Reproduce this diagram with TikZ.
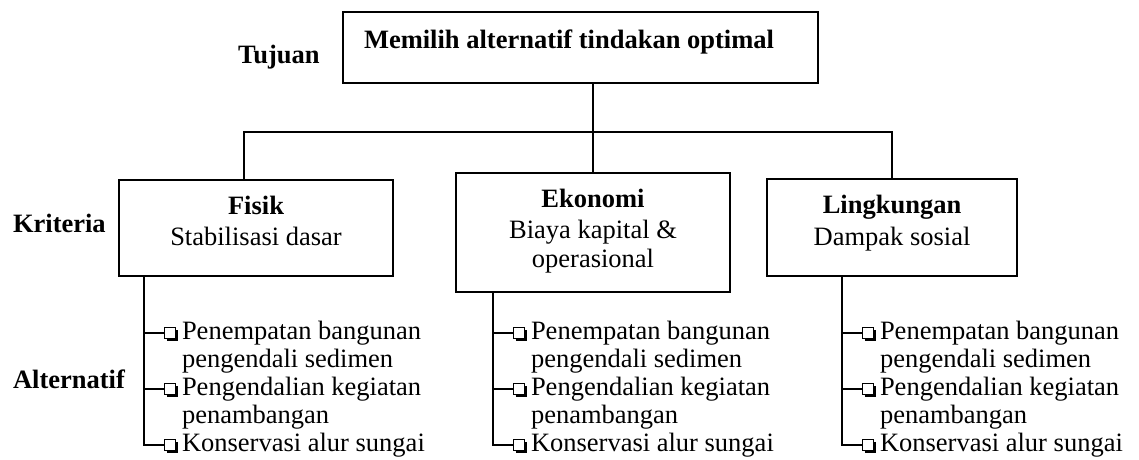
\documentclass[tikz,border=0pt]{standalone}
\usepackage{fontspec}
\setmainfont{Liberation Serif}
\begin{document}
\begin{tikzpicture}[x=1pt,y=-1pt,
  every node/.style={inner sep=0pt, outer sep=0pt},
  box/.style={draw, line width=1.6pt, inner sep=0pt},
  conn/.style={line width=1.5pt},
  txt/.style={font=\fontsize{26.5}{28}\selectfont, anchor=base},
  btxt/.style={font=\fontsize{26.5}{28}\selectfont\bfseries, anchor=base},
  item/.style={font=\fontsize{26.5}{28}\selectfont, anchor=base west},
  cbox/.style={draw, line width=1pt, minimum width=11pt, minimum height=11pt, inner sep=0pt, fill=white}]
\useasboundingbox (0,0) rectangle (1139,459);

% goal
\node[box, minimum width=475pt, minimum height=71pt] (goal) at (580.5,47.5) {};
\node[btxt, anchor=base west] (goalT) at (364,48) {Memilih alternatif tindakan optimal};
\node[btxt, anchor=base west] (tuj) at (238,63) {Tujuan};
\node[btxt, anchor=base west] (kri) at (13,232) {Kriteria};
\node[btxt, anchor=base west] (alt) at (13,388) {Alternatif};

% criteria
\node[box, minimum width=274pt, minimum height=96pt] (fis) at (256,228) {};
\node[btxt] (fisA) at (256,214) {Fisik};
\node[txt] (fisB) at (256,245) {Stabilisasi dasar};

\node[box, minimum width=274pt, minimum height=119pt] (eko) at (593,232.5) {};
\node[btxt] (ekoA) at (593,207) {Ekonomi};
\node[txt] (ekoB) at (593,238) {Biaya kapital \&};
\node[txt] (ekoC) at (593,267) {operasional};

\node[box, minimum width=250pt, minimum height=97pt] (lin) at (892,227.5) {};
\node[btxt] (linA) at (892,213) {Lingkungan};
\node[txt] (linB) at (892,245) {Dampak sosial};

% tree connectors
\coordinate (j) at (593,132);
\coordinate (fstem) at (244,0);
\draw[conn] (goal.south -| eko.north) -- (eko.north);
\draw[conn] (fis.north -| fstem) -- (fstem |- j) -- (j -| lin.north) -- (lin.north);

% alternatives
\foreach \s/\c/\bx in {144/1/fis,493/2/eko,842/3/lin}{
  \coordinate (st\c) at (\s,0);
  \node[cbox] (cb\c1) at (\s+26,333) {};
  \node[cbox] (cb\c2) at (\s+26,389) {};
  \node[cbox] (cb\c3) at (\s+26,445) {};
  \foreach \r in {1,2,3}{
    \draw[line width=2pt] ([shift={(2,1)}]cb\c\r.south west) -- ([shift={(1,1)}]cb\c\r.south east) -- ([shift={(1,2)}]cb\c\r.north east);
  }
  \draw[conn] (\bx.south -| st\c) -- (st\c |- cb\c3.west) -- (cb\c3.west);
  \draw[conn] (st\c |- cb\c1.west) -- (cb\c1.west);
  \draw[conn] (st\c |- cb\c2.west) -- (cb\c2.west);
  \node[item] (t\c a) at (\s+38,339) {Penempatan bangunan};
  \node[item] (t\c b) at (\s+38,367) {pengendali sedimen};
  \node[item] (t\c c) at (\s+38,395) {Pengendalian kegiatan};
  \node[item] (t\c d) at (\s+38,423) {penambangan};
  \node[item] (t\c e) at (\s+38,451) {Konservasi alur sungai};
}
\end{tikzpicture}
\end{document}
